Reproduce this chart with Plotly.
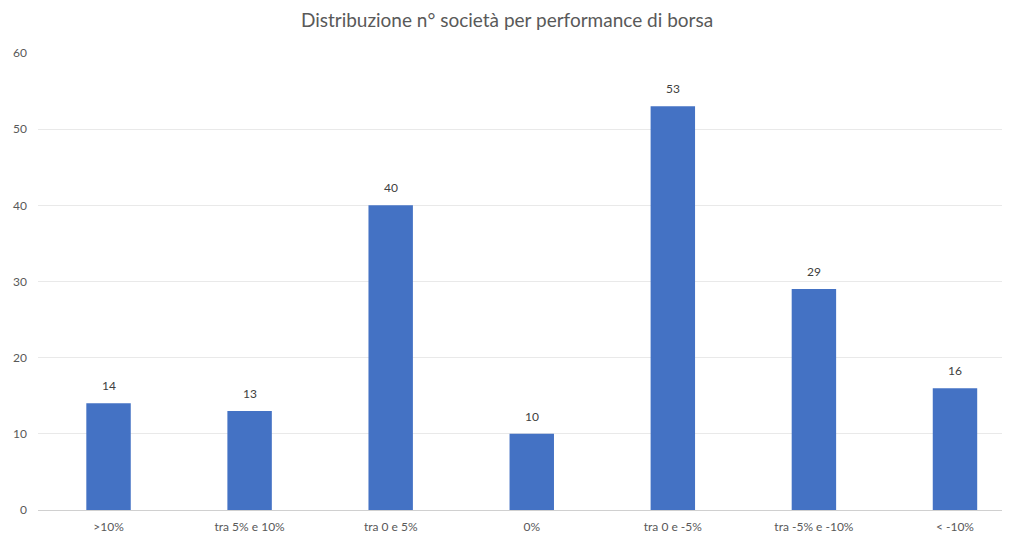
import plotly.graph_objects as go

categories = [">10%", "tra 5% e 10%", "tra 0 e 5%", "0%", "tra 0 e -5%", "tra -5% e -10%", "< -10%"]
counts = [14, 13, 40, 10, 53, 29, 16]

FONT = "Lato, Open Sans, sans-serif"

fig = go.Figure(
    go.Bar(
        x=list(range(len(categories))),
        y=counts,
        width=0.315,
        marker=dict(color="#4472C4", line=dict(width=0)),
        hoverinfo="x+y",
    )
)

# value labels sit a little above each bar
for i, v in enumerate(counts):
    fig.add_annotation(
        x=i,
        y=v,
        text=str(v),
        showarrow=False,
        yanchor="bottom",
        yshift=8,
        font=dict(family=FONT, size=12, color="#404040"),
    )

# the page adds an 8px body margin, so the figure is sized to fit the window
fig.update_layout(
    width=1002,
    height=527,
    margin=dict(l=30, r=0, t=45, b=25),
    paper_bgcolor="white",
    plot_bgcolor="white",
    showlegend=False,
    title=dict(
        text="Distribuzione n° società per performance di borsa",
        x=0.498,
        xanchor="center",
        y=0.977,
        yanchor="middle",
        font=dict(family=FONT, size=19, color="#595959"),
    ),
    xaxis=dict(
        range=[-0.5, 6.39],
        tickmode="array",
        tickvals=list(range(len(categories))),
        ticktext=categories,
        showgrid=False,
        zeroline=False,
        showline=False,
        ticks="",
        ticklabelstandoff=8,
        tickfont=dict(family=FONT, size=12, color="#595959"),
    ),
    yaxis=dict(
        range=[0, 60],
        dtick=10,
        showgrid=True,
        gridcolor="#E9E9E9",
        gridwidth=1,
        zeroline=True,
        zerolinecolor="#D0D0D0",
        zerolinewidth=1,
        ticklabelstandoff=10,
        tickfont=dict(family=FONT, size=12, color="#595959"),
    ),
)

fig.write_html("out.html")
